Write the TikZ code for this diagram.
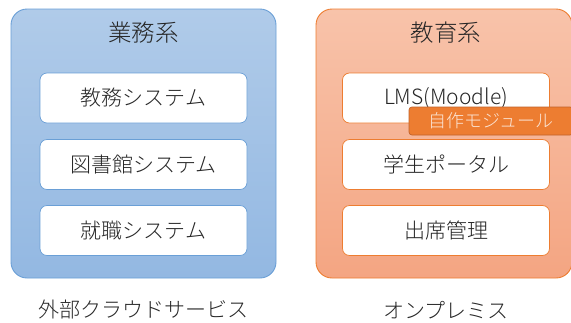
\documentclass[tikz,border=0pt]{standalone}
\usepackage{fontspec}
\setmainfont{Noto Sans CJK JP}[UprightFont={* Light}]
\definecolor{txt}{HTML}{262626}
\definecolor{blueb}{HTML}{6A9FD6}
\definecolor{bluet}{HTML}{B0CBE9}
\definecolor{blueu}{HTML}{93B8E2}
\definecolor{orab}{HTML}{ED7D31}
\definecolor{orat}{HTML}{F8C3AA}
\definecolor{orau}{HTML}{F4A582}
\definecolor{modb}{HTML}{C0622A}
\definecolor{modt}{HTML}{FBE5D6}
\tikzset{
  container/.style={rounded corners=16pt, minimum width=#1, minimum height=269pt, line width=0.9pt, inner sep=0pt},
  inbox/.style={draw=#1, fill=white, rounded corners=7pt, minimum width=207pt, minimum height=50pt, line width=0.7pt, inner sep=0pt, text=txt, font=\fontsize{21}{24}\selectfont},
  ttl/.style={text=txt, font=\fontsize{23.5}{27}\selectfont, inner sep=0pt},
  lbl/.style={text=txt, font=\fontsize{21}{24}\selectfont, inner sep=0pt},
}
\begin{document}
\begin{tikzpicture}[x=1pt,y=-1pt]
\useasboundingbox (0,0) rectangle (571,322);
% containers
\node[container=265pt, draw=blueb, top color=bluet, bottom color=blueu] (lc) at (143.5,143.5) {};
\node[container=256pt, draw=orab, top color=orat, bottom color=orau] (rc) at (444,143.5) {};
\node[ttl] (lt) at (143.5,33) {業務系};
\node[ttl] (rt) at (446,33) {教育系};
% left inner
\node[inbox=blueb] (l1) at (143.5,98) {教務システム};
\node[inbox=blueb] (l2) at (143.5,164.5) {図書館システム};
\node[inbox=blueb] (l3) at (143.5,230.5) {就職システム};
% right inner
\node[inbox=orab] (r1) at (446,98) {LMS(Moodle)};
\node[inbox=orab] (r2) at (446,164.5) {学生ポータル};
\node[inbox=orab] (r3) at (446,230.5) {出席管理};
% module
\node[draw=modb, fill=orab, rounded corners=3pt, minimum width=164pt, minimum height=28pt, inner sep=0pt, line width=0.7pt, text=modt, font=\fontsize{18}{21}\selectfont] (mod) at (491,121) {自作モジュール};
% bottom labels
\node[lbl] (lb) at (143.5,310) {外部クラウドサービス};
\node[lbl] (rb) at (446,310) {オンプレミス};
\end{tikzpicture}
\end{document}
